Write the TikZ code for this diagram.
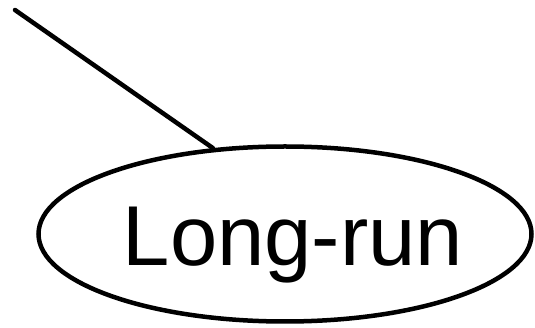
\documentclass[tikz,border=0pt]{standalone}
\usepackage{fontspec}
\setmainfont{Liberation Sans}
\usepackage{tikz}
\usetikzlibrary{shapes.geometric, positioning}

\tikzset{
  oval/.style={ellipse, draw, line width=4.5pt, inner sep=0pt,
    minimum width=493pt, minimum height=175pt},
  word/.style={anchor=base, inner sep=0pt, font=\fontsize{85}{100}\selectfont},
  stem/.style={line width=4.5pt, line cap=round}
}

\begin{document}
\begin{tikzpicture}[x=1pt, y=1pt]

            \useasboundingbox (0,0) rectangle (535,-328);

            % Hình elip
            \node[oval] (longrun) at (285,-234) {};

            % Chữ trong elip
            \node[word] (longruntext) at (293,-266) {Long-run};

            % Đoạn thẳng nối vào elip
            \coordinate (top) at (15,-10);
            \draw[stem] (top) -- (longrun.130);

            \end{tikzpicture}
\end{document}
